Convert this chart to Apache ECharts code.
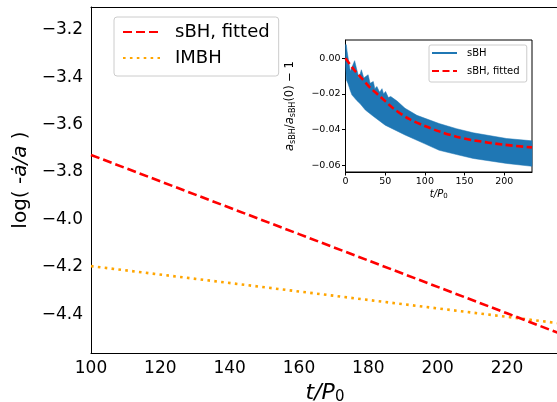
<!DOCTYPE html>
<html>
<head>
<meta charset="utf-8">
<script src="https://cdn.jsdelivr.net/npm/echarts@6/dist/echarts.min.js"></script>
<style>html,body{margin:0;padding:0;background:#fff}#c{width:557px;height:402px}</style>
</head>
<body>
<div id="c"></div>
<script>
// ---- main panel data ----
var tMain = [100, 160, 220, 235];
var fittedMain = [-3.728, -4.062, -4.396, -4.48];
var imbhMain = [-4.197, -4.304, -4.411, -4.438];
var mainXTicks = [100, 120, 140, 160, 180, 200, 220];
var mainYTicks = [-4.4, -4.2, -4.0, -3.8, -3.6, -3.4, -3.2];

// ---- inset data ----
var tUpper = [0, 1, 2, 6, 9, 11.5, 14, 17, 20, 23, 26, 28.5, 31, 35, 37, 39.5, 43, 46, 48, 50.5, 54, 57, 65, 75, 90, 118, 140, 161, 203, 235];
var upperBand = [0.0077, 0.0077, 0.004, -0.0073, -0.004, -0.0013, -0.006, -0.011, -0.0064, -0.011, -0.010, -0.0092, -0.014, -0.013, -0.017, -0.0158, -0.019, -0.017, -0.020, -0.0186, -0.022, -0.0214, -0.024, -0.028, -0.032, -0.0366, -0.0395, -0.0418, -0.045, -0.0463];
var tLower = [0, 1, 3, 6, 8, 14.5, 18.5, 25, 35, 50, 75, 100, 118, 140, 161, 203, 235];
var lowerBand = [-0.002, -0.012, -0.014, -0.018, -0.0205, -0.0238, -0.0255, -0.029, -0.0325, -0.0375, -0.043, -0.048, -0.0516, -0.054, -0.0562, -0.059, -0.0606];
var tFit = [0, 10, 20, 30, 40, 50, 60, 80, 100, 118, 140, 161, 200, 235];
var fitInset = [0, -0.006, -0.011, -0.016, -0.020, -0.024, -0.028, -0.034, -0.038, -0.041, -0.044, -0.046, -0.0485, -0.050];
var insetXTicks = [0, 50, 100, 150, 200];
var insetYTicks = [-0.06, -0.04, -0.02, 0.00];

function pairs(xs, ys) { return xs.map(function (x, i) { return [x, ys[i]]; }); }
function minusFmt(d) { return function (v) { var s = Math.abs(v).toFixed(d); return (v < -1e-12 ? '\u2212' : '') + s; }; }

var FONT = 'DejaVu Sans';
var chart = echarts.init(document.getElementById('c'), null, { renderer: 'canvas' });
var hideSym = { color: 'rgba(0,0,0,0)', borderColor: 'rgba(0,0,0,0)', borderWidth: 0, opacity: 0 };

var option = {
  animation: false,
  backgroundColor: '#ffffff',
  textStyle: { fontFamily: FONT, color: '#000' },
  grid: [
    { left: 91, top: 7, width: 468, height: 346, show: false, containLabel: false, outerBoundsMode: 'none' },
    { left: 345.5, top: 40, width: 186.5, height: 132, show: true, borderColor: '#000', borderWidth: 1, backgroundColor: '#fff', containLabel: false, outerBoundsMode: 'none' }
  ],
  xAxis: [
    {
      gridIndex: 0, type: 'value', min: 100, max: 235, interval: 20,
      axisLine: { show: true, onZero: false, lineStyle: { color: '#000', width: 1 } },
      axisTick: { show: false },
      splitLine: { show: false },
      axisLabel: { fontSize: 17, color: '#000', fontFamily: FONT, margin: 7, customValues: mainXTicks },
      name: '{it|t}{it|/P}{sub|0}', nameLocation: 'middle', nameGap: 24,
      nameTextStyle: {
        fontFamily: FONT, fontSize: 22, color: '#000',
        rich: { it: { fontSize: 22, fontStyle: 'italic', fontFamily: FONT }, sub: { fontSize: 15, fontFamily: FONT, verticalAlign: 'bottom', padding: [8, 0, 0, 0] } }
      }
    },
    {
      gridIndex: 1, type: 'value', min: 0, max: 235, interval: 50,
      axisLine: { show: true, onZero: false, lineStyle: { color: '#000', width: 1 } },
      axisTick: { show: true, inside: false, length: 3.5, lineStyle: { color: '#000' }, customValues: insetXTicks },
      splitLine: { show: false },
      axisLabel: { fontSize: 9.5, color: '#000', fontFamily: FONT, margin: 5, customValues: insetXTicks },
      name: '{it|t/P}{sub|0}', nameLocation: 'middle', nameGap: 17,
      nameTextStyle: {
        fontFamily: FONT, fontSize: 10, color: '#000',
        rich: { it: { fontSize: 10, fontStyle: 'italic', fontFamily: FONT }, sub: { fontSize: 7, fontFamily: FONT, verticalAlign: 'bottom', padding: [4, 0, 0, 0] } }
      }
    },
    {
      gridIndex: 0, type: 'value', position: 'top', min: 100, max: 235,
      axisLine: { show: true, onZero: false, lineStyle: { color: '#000', width: 1 } },
      axisTick: { show: false }, axisLabel: { show: false }, splitLine: { show: false }
    }
  ],
  yAxis: [
    {
      gridIndex: 0, type: 'value', min: -4.5635, max: -3.104,
      axisLine: { show: true, onZero: false, lineStyle: { color: '#000', width: 1 } },
      axisTick: { show: false, customValues: mainYTicks },
      splitLine: { show: false },
      axisLabel: { fontSize: 17, color: '#000', fontFamily: FONT, margin: 8, formatter: minusFmt(1), customValues: mainYTicks },
      name: 'log( -{it|\u0227/a} )', nameLocation: 'middle', nameGap: 56,
      nameTextStyle: {
        fontFamily: FONT, fontSize: 20, color: '#000',
        rich: { it: { fontSize: 20, fontStyle: 'italic', fontFamily: FONT } }
      }
    },
    {
      gridIndex: 1, type: 'value', min: -0.0638, max: 0.0103,
      axisLine: { show: true, onZero: false, lineStyle: { color: '#000', width: 1 } },
      axisTick: { show: true, inside: false, length: 3.5, lineStyle: { color: '#000' }, customValues: insetYTicks },
      splitLine: { show: false },
      axisLabel: { fontSize: 9.5, color: '#000', fontFamily: FONT, margin: 5, formatter: minusFmt(2), customValues: insetYTicks },
      name: '{it|a}{sub|sBH}{n|/}{it|a}{sub|sBH}{n|(0) \u2212 1}', nameLocation: 'middle', nameGap: 49,
      nameTextStyle: {
        fontFamily: FONT, fontSize: 11.5, color: '#000',
        rich: {
          it: { fontSize: 11.5, fontStyle: 'italic', fontFamily: FONT },
          n: { fontSize: 11.5, fontFamily: FONT },
          sub: { fontSize: 8, fontFamily: FONT, verticalAlign: 'bottom', padding: [5, 0, 0, 0] }
        }
      }
    }
  ],
  legend: [
    {
      left: 114, top: 17, orient: 'vertical',
      data: ['sBH, fitted', 'IMBH'],
      itemWidth: 37, itemHeight: 14, itemGap: 6,
      padding: [5, 9, 8, 8],
      itemStyle: hideSym,
      backgroundColor: 'rgba(255,255,255,0.8)', borderColor: '#cccccc', borderWidth: 1, borderRadius: 3,
      textStyle: { fontFamily: FONT, fontSize: 18, color: '#000', lineHeight: 20, padding: [0, 0, 0, 10] }
    },
    {
      left: 429, top: 45, orient: 'vertical',
      data: ['sBH', 'sBH, fitted '],
      itemWidth: 25, itemHeight: 10, itemGap: 6,
      padding: [2, 4, 5, 2],
      itemStyle: hideSym,
      backgroundColor: 'rgba(255,255,255,0.8)', borderColor: '#cccccc', borderWidth: 1, borderRadius: 2,
      textStyle: { fontFamily: FONT, fontSize: 10, color: '#000', lineHeight: 12, padding: [0, 0, 0, 5] }
    }
  ],
  series: [
    {
      name: 'sBH, fitted', type: 'line', xAxisIndex: 0, yAxisIndex: 0,
      data: pairs(tMain, fittedMain), showSymbol: false, symbol: 'none',
      lineStyle: { color: '#ff0000', width: 2.6, type: [9, 4] }, itemStyle: { color: '#ff0000' },
      z: 3
    },
    {
      name: 'IMBH', type: 'line', xAxisIndex: 0, yAxisIndex: 0,
      data: pairs(tMain, imbhMain), showSymbol: false, symbol: 'none',
      lineStyle: { color: '#ffa500', width: 2.6, type: [2.6, 4.3] }, itemStyle: { color: '#ffa500' },
      z: 2
    },
    {
      type: 'custom', xAxisIndex: 1, yAxisIndex: 1, clip: true, silent: true,
      data: [[0, 0]],
      renderItem: function (params, api) {
        var pts = [];
        for (var i = 0; i < tUpper.length; i++) pts.push(api.coord([tUpper[i], upperBand[i]]));
        for (var j = tLower.length - 1; j >= 0; j--) pts.push(api.coord([tLower[j], lowerBand[j]]));
        return { type: 'polygon', shape: { points: pts }, style: { fill: '#1f77b4', stroke: '#1f77b4', lineWidth: 0.5 } };
      },
      z: 5
    },
    {
      name: 'sBH', type: 'line', xAxisIndex: 1, yAxisIndex: 1,
      data: [], showSymbol: false, symbol: 'none',
      lineStyle: { color: '#1f77b4', width: 3 }, itemStyle: { color: '#1f77b4' }
    },
    {
      name: 'sBH, fitted ', type: 'line', xAxisIndex: 1, yAxisIndex: 1,
      data: pairs(tFit, fitInset), showSymbol: false, symbol: 'none', smooth: 0.3,
      lineStyle: { color: '#ff0000', width: 2.6, type: [7, 3.5] }, itemStyle: { color: '#ff0000' },
      z: 6
    }
  ]
};
chart.setOption(option);
</script>
</body>
</html>
